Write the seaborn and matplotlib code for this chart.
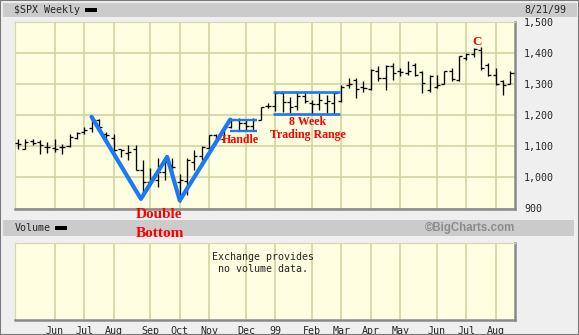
import numpy as np
import pandas as pd
import matplotlib
matplotlib.use("Agg")
import matplotlib.pyplot as plt
import matplotlib.dates as mdates
from matplotlib.patches import Rectangle
import seaborn as sns

# ---------------- data ----------------
first_week = "1998-05-08"
opens = [1111, 1093, 1117, 1114, 1098, 1096, 1098, 1100, 1128, 1146,
         1160, 1184, 1141, 1128, 1090, 1077, 1093, 1023, 986, 991,
         1018, 1039, 986, 990, 1050, 1070, 1095, 1138, 1125, 1163,
         1185, 1175, 1165, 1186, 1230, 1229, 1270, 1243, 1230, 1262,
         1240, 1235, 1240, 1240, 1245, 1297, 1314, 1292, 1285, 1341,
         1320, 1358, 1341, 1336, 1363, 1339, 1282, 1292, 1300, 1341,
         1314, 1385, 1396, 1409, 1363, 1330, 1311, 1300]
highs = [1125, 1122, 1122, 1120, 1114, 1125, 1109, 1141, 1146, 1162,
         1192, 1189, 1146, 1141, 1093, 1104, 1104, 1055, 1029, 1061,
         1066, 1061, 1012, 1061, 1087, 1100, 1137, 1141, 1165, 1192,
         1190, 1186, 1190, 1228, 1240, 1278, 1272, 1260, 1275, 1278,
         1250, 1270, 1265, 1275, 1297, 1320, 1320, 1309, 1350, 1358,
         1363, 1368, 1352, 1374, 1368, 1341, 1330, 1330, 1343, 1352,
         1390, 1401, 1415, 1419, 1368, 1352, 1314, 1343]
lows = [1093, 1093, 1104, 1075, 1079, 1082, 1075, 1098, 1125, 1141,
        1146, 1152, 1120, 1066, 1066, 1055, 1023, 937, 975, 970,
        991, 996, 921, 942, 1023, 1055, 1090, 1114, 1115, 1160,
        1150, 1150, 1150, 1184, 1222, 1215, 1210, 1208, 1216, 1238,
        1205, 1218, 1208, 1205, 1243, 1287, 1254, 1276, 1282, 1309,
        1282, 1314, 1325, 1328, 1325, 1273, 1276, 1287, 1300, 1311,
        1311, 1379, 1387, 1347, 1325, 1298, 1265, 1300]
closes = [1109, 1114, 1111, 1104, 1098, 1093, 1098, 1130, 1143, 1152,
          1178, 1162, 1135, 1088, 1088, 1082, 1025, 985, 996, 1018,
          1050, 1034, 991, 1055, 1070, 1098, 1135, 1125, 1163, 1186,
          1176, 1166, 1185, 1226, 1229, 1270, 1243, 1225, 1262, 1245,
          1235, 1250, 1245, 1270, 1290, 1300, 1283, 1289, 1347, 1320,
          1358, 1336, 1339, 1341, 1330, 1303, 1325, 1298, 1341, 1317,
          1390, 1398, 1412, 1352, 1330, 1300, 1298, 1336]

tick_dates = ["1998-06-12", "1998-07-10", "1998-08-07", "1998-09-11",
              "1998-10-09", "1998-11-06", "1998-12-11", "1999-01-08",
              "1999-02-12", "1999-03-12", "1999-04-09", "1999-05-07",
              "1999-06-11", "1999-07-09", "1999-08-06"]
tick_labels = ["Jun", "Jul", "Aug", "Sep", "Oct", "Nov", "Dec", "99",
               "Feb", "Mar", "Apr", "May", "Jun", "Jul", "Aug"]
price_ticks = [900, 1000, 1100, 1200, 1300, 1400, 1500]
price_labels = ["900", "1,000", "1,100", "1,200", "1,300", "1,400", "1,500"]

# annotation shapes (date, price)
w_dates = ["1998-07-17", "1998-09-02", "1998-09-27", "1998-10-09", "1998-11-26"]
w_values = [1195, 931, 1066, 926, 1186]
handle_dates = ["1998-11-26", "1998-12-22"]
handle_values = [1186, 1149]
range_dates = ["1999-01-06", "1999-03-11"]
range_values = [1274, 1204]

# ---------------- style ----------------
sns.set_style("white")
plt.rcParams["font.family"] = ["DejaVu Sans Mono", "DejaVu Sans"]

BG = "#fefee0"
GRID = "#d0d09c"
BLUE = "#1c78f5"
RED = "#ff0000"
mono = 7.2

W, H = 579, 335
fig = plt.figure(figsize=(W / 100, H / 100), dpi=100, facecolor="#efefef")

def fx(px):
    return px / W

def fy(py):
    return 1 - py / H

# outer border and gray bars
fig.patches.append(Rectangle((0, 0), 1, 1, transform=fig.transFigure,
                             facecolor="none", edgecolor="#7a7a7a", lw=1.5, zorder=0))
fig.patches.append(Rectangle((fx(3), fy(16.7)), fx(574), 13.4 / H, transform=fig.transFigure,
                             facecolor="#cbcbcb", edgecolor="none", zorder=1))
fig.patches.append(Rectangle((fx(3), fy(236)), fx(571), 16 / H, transform=fig.transFigure,
                             facecolor="#cbcbcb", edgecolor="none", zorder=1))

ax = fig.add_axes([fx(14.8), fy(208.5), fx(515 - 14.8), (208.5 - 22) / H])
axv = fig.add_axes([fx(14.8), fy(319.5), fx(515 - 14.8), (319.5 - 242.5) / H])

week_dates = pd.date_range(first_week, periods=len(closes), freq="7D")
xd = mdates.date2num(week_dates.to_pydatetime())
tx = mdates.date2num(pd.to_datetime(tick_dates).to_pydatetime())
half = 2.9  # days

xmin, xmax = xd[0] - 3.1, xd[-1] + 4.3

for a in (ax, axv):
    a.set_facecolor(BG)
    a.set_xlim(xmin, xmax)
    a.set_xticks(tx)
    a.grid(True, axis="x", color=GRID, lw=1.1, zorder=0)
    a.set_axisbelow(True)
    for s in ("left", "top"):
        a.spines[s].set_color("#d6d6a8")
        a.spines[s].set_linewidth(0.8)
    for s in ("right", "bottom"):
        a.spines[s].set_color("#8a8a8a")
        a.spines[s].set_linewidth(1.8)

# main price panel
ax.set_ylim(900, 1500)
ax.set_yticks(price_ticks)
ax.set_yticklabels(price_labels)
ax.yaxis.tick_right()
ax.tick_params(axis="y", length=0, pad=6.5, labelsize=mono)
ax.tick_params(axis="x", length=0, labelbottom=False)
ax.grid(True, axis="y", color=GRID, lw=1.1, zorder=0)

ax.vlines(xd, lows, highs, color="black", lw=0.95, zorder=3)
ax.hlines(opens, xd - half, xd, color="black", lw=0.95, zorder=3)
ax.hlines(closes, xd, xd + half, color="black", lw=0.95, zorder=3)

wx = mdates.date2num(pd.to_datetime(w_dates).to_pydatetime())
sns.lineplot(x=wx, y=w_values, ax=ax, color=BLUE, lw=3.0, sort=False,
             estimator=None, zorder=4, legend=False)
hx = mdates.date2num(pd.to_datetime(handle_dates).to_pydatetime())
ax.hlines(handle_values, hx[0], hx[1], color=BLUE, lw=1.7, zorder=4)
rx = mdates.date2num(pd.to_datetime(range_dates).to_pydatetime())
ax.hlines(range_values, rx[0], rx[1], color=BLUE, lw=1.9, zorder=4)

serif = dict(family="Liberation Serif", weight="bold", color=RED)
ax.text(mdates.date2num(pd.Timestamp("1998-12-06")), 1119, "Handle",
        ha="center", va="center", fontsize=8.6, zorder=5, **serif)
ax.text(mdates.date2num(pd.Timestamp("1999-02-08")), 1178, "8 Week",
        ha="center", va="center", fontsize=8.6, zorder=5, **serif)
ax.text(mdates.date2num(pd.Timestamp("1999-02-08")), 1138, "Trading Range",
        ha="center", va="center", fontsize=8.6, zorder=5, **serif)
ax.text(mdates.date2num(pd.Timestamp("1999-07-19")), 1437, "C",
        ha="center", va="center", fontsize=9.5, zorder=5, **serif)

fig.text(fx(159.5), fy(214), "Double", ha="center", va="center",
         fontsize=11, zorder=6, **serif)
fig.text(fx(159.5), fy(233.5), "Bottom", ha="center", va="center",
         fontsize=11, zorder=6, **serif)

# volume panel
axv.set_ylim(0, 1)
axv.set_yticks([])
axv.set_xticklabels(tick_labels)
axv.tick_params(axis="x", length=0, pad=4.5, labelsize=mono)
axv.text(0.496, 0.735, "Exchange provides\nno volume data.", transform=axv.transAxes,
         ha="center", va="center", fontsize=mono, linespacing=1.25)

# header texts
fig.text(fx(14), fy(10), "$SPX Weekly", ha="left", va="center", fontsize=mono)
fig.patches.append(Rectangle((fx(85), fy(12)), fx(12), 4 / H, transform=fig.transFigure,
                             facecolor="black", edgecolor="none", zorder=2))
fig.text(fx(566), fy(9.5), "8/21/99", ha="right", va="center", fontsize=mono)

fig.text(fx(14.5), fy(228), "Volume", ha="left", va="center", fontsize=mono)
fig.patches.append(Rectangle((fx(55), fy(230)), fx(12), 4 / H, transform=fig.transFigure,
                             facecolor="black", edgecolor="none", zorder=2))
fig.text(fx(515), fy(228), "\u00a9BigCharts.com", ha="right", va="center",
         fontsize=8.3, family="Liberation Sans", weight="bold", color="#8c8c8c")

fig.savefig("out.png", dpi=100, facecolor=fig.get_facecolor())
